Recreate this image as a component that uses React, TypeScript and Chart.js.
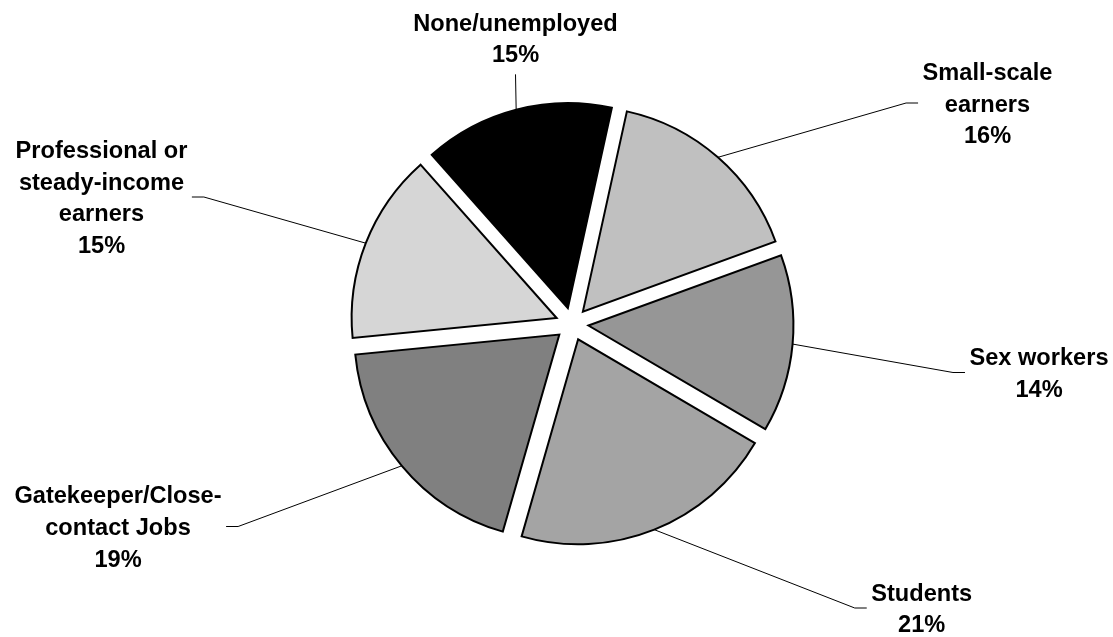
import React, { useEffect, useRef } from 'react';
import { Chart, registerables } from 'chart.js';

Chart.register(...registerables);

// ---- data ----
const categories = [
  'Small-scale earners',
  'Sex workers',
  'Students',
  'Gatekeeper/Close-contact Jobs',
  'Professional or steady-income earners',
  'None/unemployed',
];
const labelLines = [
  ['Small-scale', 'earners'],
  ['Sex workers'],
  ['Students'],
  ['Gatekeeper/Close-', 'contact Jobs'],
  ['Professional or', 'steady-income', 'earners'],
  ['None/unemployed'],
];
const shares = [16, 14, 21, 19, 15, 15];

// ---- styles / layout ----
const sliceColors = ['#c0c0c0', '#969696', '#a4a4a4', '#808080', '#d6d6d6', '#000000'];
const labelLayout = [
  { dx: 415.5, dy: -221, side: 'left' },
  { dx: 467, dy: 48.5, side: 'left' },
  { dx: 349.7, dy: 284, side: 'left' },
  { dx: -454, dy: 202.5, side: 'right' },
  { dx: -470.5, dy: -127, side: 'right' },
  { dx: -56.5, dy: -286, side: 'bottom' },
];
const EXPLODE = 16.5;
const FONT = 'bold 23.6px "Liberation Sans", Arial, Helvetica, sans-serif';
const LINE_H = 31.7;
const CAP = 17;
const GAP = 4.5;
const TAIL = 12;

const explodePlugin = {
  id: 'explodeAndLabels',
  beforeDatasetDraw(chart: any, args: any) {
    const meta = chart.getDatasetMeta(args.index);
    const ctx = chart.ctx;
    meta.data.forEach((arc: any) => {
      const mid = (arc.startAngle + arc.endAngle) / 2;
      ctx.save();
      ctx.translate(Math.cos(mid) * EXPLODE, Math.sin(mid) * EXPLODE);
      arc.draw(ctx);
      ctx.restore();
    });
    return false;
  },
  afterDraw(chart: any) {
    const meta = chart.getDatasetMeta(0);
    const ctx = chart.ctx;
    const data = chart.data.datasets[0].data as number[];
    const total = data.reduce((a, b) => a + b, 0);
    ctx.save();
    ctx.font = FONT;
    ctx.fillStyle = '#000';
    ctx.strokeStyle = '#000';
    ctx.lineWidth = 1;
    meta.data.forEach((arc: any, i: number) => {
      const mid = (arc.startAngle + arc.endAngle) / 2;
      const r = arc.outerRadius + EXPLODE;
      const px = arc.x + Math.cos(mid) * r;
      const py = arc.y + Math.sin(mid) * r;
      const lay = labelLayout[i];
      const bx = arc.x + lay.dx;
      const by = arc.y + lay.dy;
      const lines = [...labelLines[i], Math.round((data[i] / total) * 100) + '%'];
      const n = lines.length;
      let w = 0;
      lines.forEach((l) => { w = Math.max(w, ctx.measureText(l).width); });
      ctx.textAlign = 'center';
      ctx.textBaseline = 'alphabetic';
      lines.forEach((l, k) => {
        const capCenter = by + (k - (n - 1) / 2) * LINE_H;
        ctx.fillText(l, bx, capCenter + CAP / 2);
      });
      ctx.beginPath();
      ctx.moveTo(px, py);
      if (lay.side === 'left') {
        const ex = bx - w / 2 - GAP;
        ctx.lineTo(ex - TAIL, by);
        ctx.lineTo(ex, by);
      } else if (lay.side === 'right') {
        const ex = bx + w / 2 + GAP;
        ctx.lineTo(ex + TAIL, by);
        ctx.lineTo(ex, by);
      } else {
        const lastBase = by + ((n - 1) / 2) * LINE_H + CAP / 2;
        ctx.lineTo(bx, lastBase + 12);
      }
      ctx.stroke();
    });
    ctx.restore();
  },
};

export default function App() {
  const ref = useRef<HTMLCanvasElement>(null);
  useEffect(() => {
    const chart = new Chart(ref.current as HTMLCanvasElement, {
      type: 'pie',
      data: {
        labels: categories,
        datasets: [
          {
            data: shares,
            backgroundColor: sliceColors,
            borderColor: '#000000',
            borderWidth: 2,
            borderJoinStyle: 'miter',
          } as any,
        ],
      },
      options: {
        responsive: false,
        animation: false,
        events: [],
        rotation: 12.4,
        radius: 205,
        layout: { padding: { left: 31, top: 11, right: 0, bottom: 0 } },
        plugins: {
          legend: { display: false },
          tooltip: { enabled: false },
        },
      } as any,
      plugins: [explodePlugin],
    });
    return () => chart.destroy();
  }, []);
  return (
    <div style={{ position: 'fixed', left: 0, top: 0, width: 1113, height: 637, background: '#ffffff' }}>
      <canvas ref={ref} width={1113} height={637} style={{ display: 'block' }} />
    </div>
  );
}
